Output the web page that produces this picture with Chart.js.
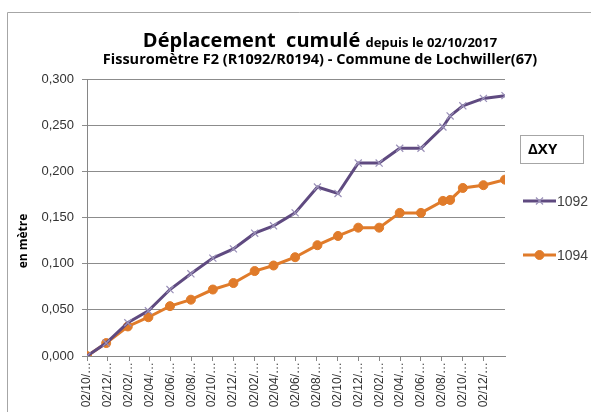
<!DOCTYPE html>
<html>
<head>
<meta charset="utf-8">
<script src="https://cdn.jsdelivr.net/npm/chart.js@4/dist/chart.umd.min.js"></script>
<style>
  html, body { margin: 0; padding: 0; background: #fff; }
  #wrap { width: 591px; height: 412px; }
</style>
</head>
<body>
<div id="wrap"><canvas id="myLine" width="591" height="412"></canvas></div>
<script>
// dates of the measurements (dd/mm/yyyy)
const dates = ['02/10/2017', '27/11/2017', '29/01/2018', '30/03/2018', '01/06/2018', '01/08/2018',
  '04/10/2018', '03/12/2018', '03/02/2019', '30/03/2019', '01/06/2019', '05/08/2019',
  '04/10/2019', '02/12/2019', '01/02/2020', '01/04/2020', '02/06/2020', '05/08/2020',
  '26/08/2020', '02/10/2020', '01/12/2020', '02/02/2021'];
const r1092 = [0, 0.014, 0.036, 0.049, 0.072, 0.089, 0.106, 0.116, 0.133, 0.141, 0.155, 0.183,
  0.176, 0.209, 0.209, 0.225, 0.225, 0.248, 0.260, 0.271, 0.279, 0.282];
const r1094 = [0, 0.014, 0.032, 0.042, 0.054, 0.061, 0.072, 0.079, 0.092, 0.098, 0.107, 0.120,
  0.130, 0.139, 0.139, 0.155, 0.155, 0.168, 0.169, 0.182, 0.185, 0.191];
const tickLabels = ['02/10/2017', '02/12/2017', '02/02/2018', '02/04/2018', '02/06/2018', '02/08/2018',
  '02/10/2018', '02/12/2018', '02/02/2019', '02/04/2019', '02/06/2019', '02/08/2019',
  '02/10/2019', '02/12/2019', '02/02/2020', '02/04/2020', '02/06/2020', '02/08/2020',
  '02/10/2020', '02/12/2020'];
const yTicks = [0, 0.05, 0.1, 0.15, 0.2, 0.25, 0.3];

const dayNum = s => Date.UTC(+s.slice(6, 10), +s.slice(3, 5) - 1, +s.slice(0, 2)) / 86400000;
const pts = vals => vals.map((v, i) => ({ x: dayNum(dates[i]), y: v }));

const purple = '#5f4a80';
const orange = '#e07b2a';

const decor = {
  id: 'decor',
  beforeDraw(chart) {
    const ctx = chart.ctx;
    ctx.save();
    ctx.strokeStyle = '#a6a6a6';
    ctx.lineWidth = 1;
    ctx.beginPath();
    ctx.moveTo(7.5, 412);
    ctx.lineTo(7.5, 12.5);
    ctx.lineTo(591, 12.5);
    ctx.stroke();
    ctx.restore();
  },
  afterDraw(chart) {
    const ctx = chart.ctx;
    ctx.save();
    ctx.fillStyle = '#000';
    ctx.textBaseline = 'alphabetic';
    // title line 1, two sizes
    const a = 'Déplacement  cumulé ', b = 'depuis le 02/10/2017';
    ctx.font = 'bold 20px "Open Sans"';
    const wa = ctx.measureText(a).width;
    ctx.font = 'bold 13px "Open Sans"';
    const wb = ctx.measureText(b).width;
    let x = 320 - (wa + wb) / 2;
    ctx.font = 'bold 20px "Open Sans"';
    ctx.fillText(a, x, 47);
    ctx.font = 'bold 13px "Open Sans"';
    ctx.fillText(b, x + wa, 47);
    ctx.textAlign = 'center';
    ctx.font = 'bold 14.5px "Open Sans"';
    ctx.fillText('Fissuromètre F2 (R1092/R0194) - Commune de Lochwiller(67)', 320, 64);
    // y axis title
    ctx.save();
    ctx.translate(24, 241);
    ctx.rotate(-Math.PI / 2);
    ctx.font = 'bold 12px "Open Sans"';
    ctx.textBaseline = 'middle';
    ctx.fillText('en mètre', 0, 0);
    ctx.restore();
    // legend box
    ctx.fillStyle = '#fff';
    ctx.fillRect(520.5, 135.5, 63, 28);
    ctx.strokeStyle = '#a6a6a6';
    ctx.lineWidth = 1;
    ctx.strokeRect(520.5, 135.5, 63, 28);
    ctx.fillStyle = '#000';
    ctx.textAlign = 'left';
    ctx.textBaseline = 'middle';
    ctx.font = 'bold 15px "Open Sans"';
    ctx.fillText('ΔXY', 528, 150);
    // legend items
    const rows = [201, 255];
    chart.data.datasets.forEach((ds, i) => {
      const y = rows[i];
      ctx.strokeStyle = ds.borderColor;
      ctx.lineWidth = 3;
      ctx.beginPath();
      ctx.moveTo(523, y);
      ctx.lineTo(556, y);
      ctx.stroke();
      ctx.strokeStyle = ds.pointBorderColor;
      ctx.fillStyle = ds.pointBackgroundColor;
      ctx.lineWidth = ds.pointBorderWidth;
      Chart.helpers.drawPoint(ctx, { pointStyle: ds.pointStyle, radius: ds.pointRadius, borderWidth: ds.pointBorderWidth, rotation: 0 }, 539.5, y);
      ctx.fillStyle = '#404040';
      ctx.font = '14px "Liberation Sans"';
      ctx.fillText(ds.label, 557, y + 1);
    });
    ctx.restore();
  }
};

new Chart(document.getElementById('myLine'), {
  type: 'line',
  data: {
    datasets: [
      {
        label: '1092',
        data: pts(r1092),
        borderColor: purple,
        borderWidth: 3,
        pointStyle: 'crossRot',
        pointRadius: 5,
        pointBorderWidth: 1.2,
        pointBorderColor: '#9a90b8',
        pointBackgroundColor: '#9a90b8',
        tension: 0
      },
      {
        label: '1094',
        data: pts(r1094),
        borderColor: orange,
        borderWidth: 3,
        pointStyle: 'circle',
        pointRadius: 4.5,
        pointBorderWidth: 1,
        pointBorderColor: orange,
        pointBackgroundColor: orange,
        tension: 0
      }
    ]
  },
  options: {
    responsive: false,
    animation: false,
    layout: { padding: { left: 0, top: 79, right: 86, bottom: 0 } },
    plugins: {
      legend: { display: false },
      tooltip: { enabled: false }
    },
    scales: {
      x: {
        type: 'linear',
        min: dayNum(tickLabels[0]),
        max: dayNum(dates[dates.length - 1]),
        afterBuildTicks: scale => {
          scale.ticks = tickLabels.map(t => ({ value: dayNum(t) }));
        },
        afterFit: scale => { scale.height = 56; },
        grid: { drawOnChartArea: false, color: '#868686', tickLength: 5 },
        border: { color: '#868686' },
        ticks: {
          autoSkip: false,
          maxRotation: 90,
          minRotation: 90,
          padding: 1,
          color: '#333',
          font: { family: 'Liberation Sans', size: 12 },
          callback: v => {
            const t = tickLabels.find(l => dayNum(l) === v);
            return t ? t.slice(0, 6) + '…' : '';
          }
        }
      },
      y: {
        min: 0,
        max: 0.3,
        afterBuildTicks: scale => {
          scale.ticks = yTicks.map(v => ({ value: v }));
        },
        afterFit: scale => { scale.width = 87; },
        grid: { color: '#8c8c8c', tickLength: 5 },
        border: { color: '#868686' },
        ticks: {
          padding: 8,
          color: '#333',
          font: { family: 'Liberation Sans', size: 13 },
          callback: v => v.toFixed(3).replace('.', ',')
        }
      }
    }
  },
  plugins: [decor]
});
</script>
</body>
</html>
